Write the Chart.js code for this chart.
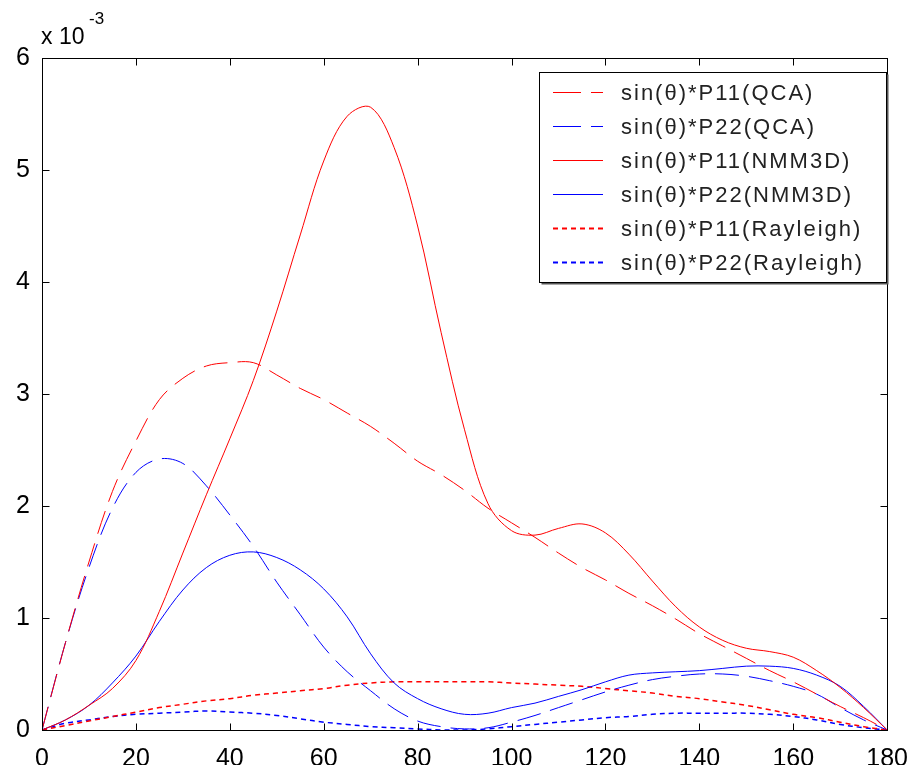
<!DOCTYPE html>
<html>
<head>
<meta charset="utf-8">
<script src="https://cdn.jsdelivr.net/npm/chart.js@4.4.1/dist/chart.umd.min.js"></script>
<style>
  html, body { margin: 0; padding: 0; background: #fff; }
</style>
</head>
<body>
<canvas id="phaseChart" width="922" height="765"></canvas>
<script>
// scattering angle (deg)
const theta = [0, 5, 10, 15, 20, 25, 30, 35, 40, 45, 50, 55, 60, 65, 70, 75, 80, 85, 90,
               95, 100, 105, 110, 115, 120, 125, 130, 135, 140, 145, 150, 155, 160, 165, 170, 175, 180];

// sin(theta)*P, in units of 1e-3
const p11QCA = [0, 0.78, 1.50, 2.13, 2.58, 2.95, 3.14, 3.25, 3.28, 3.28, 3.17, 3.05, 2.95, 2.83, 2.71, 2.56, 2.40, 2.28, 2.14,
                1.98, 1.85, 1.72, 1.58, 1.45, 1.34, 1.22, 1.11, 0.99, 0.86, 0.75, 0.64, 0.53, 0.43, 0.32, 0.21, 0.11, 0];
const p22QCA = [0, 0.78, 1.45, 1.98, 2.30, 2.42, 2.38, 2.18, 1.92, 1.64, 1.32, 1.03, 0.74, 0.52, 0.35, 0.19, 0.08, 0.03, 0.01,
                0.02, 0.07, 0.13, 0.20, 0.27, 0.34, 0.40, 0.45, 0.48, 0.50, 0.50, 0.48, 0.44, 0.39, 0.32, 0.20, 0.09, 0];
const p11NMM = [0, 0.09, 0.22, 0.37, 0.62, 1.06, 1.58, 2.10, 2.60, 3.12, 3.74, 4.42, 5.08, 5.48, 5.56, 5.20, 4.50, 3.55, 2.68,
                2.02, 1.78, 1.74, 1.80, 1.84, 1.76, 1.57, 1.33, 1.10, 0.92, 0.80, 0.73, 0.70, 0.65, 0.53, 0.38, 0.20, 0];
const p22NMM = [0, 0.09, 0.22, 0.42, 0.66, 0.97, 1.25, 1.45, 1.56, 1.59, 1.54, 1.43, 1.26, 1.01, 0.68, 0.42, 0.28, 0.19, 0.14,
                0.15, 0.20, 0.24, 0.30, 0.36, 0.43, 0.49, 0.51, 0.52, 0.53, 0.55, 0.57, 0.57, 0.55, 0.49, 0.39, 0.21, 0];
const p11Ray = [0, 0.04, 0.08, 0.12, 0.16, 0.20, 0.23, 0.26, 0.28, 0.31, 0.33, 0.35, 0.37, 0.40, 0.42, 0.43, 0.43, 0.43, 0.43,
                0.43, 0.42, 0.41, 0.40, 0.39, 0.37, 0.35, 0.33, 0.30, 0.28, 0.25, 0.22, 0.18, 0.14, 0.11, 0.07, 0.03, 0];
const p22Ray = [0, 0.06, 0.09, 0.12, 0.14, 0.15, 0.16, 0.17, 0.16, 0.15, 0.13, 0.10, 0.07, 0.05, 0.03, 0.02, 0.01, 0.00, 0.00,
                0.01, 0.03, 0.05, 0.07, 0.09, 0.11, 0.12, 0.14, 0.15, 0.15, 0.15, 0.15, 0.14, 0.12, 0.09, 0.05, 0.02, 0];

const xTicks = [0, 20, 40, 60, 80, 100, 120, 140, 160, 180];
const yTicks = [0, 1, 2, 3, 4, 5, 6];

const FONT = '"Liberation Sans", Arial, sans-serif';
const RED = '#ff0000';
const BLUE = '#0000ff';
const DASH = [24, 10];
const DOT = [5, 4];

function series(label, values, color, dash, width) {
    return {
        label: label,
        data: theta.map((t, i) => ({ x: t, y: values[i] })),
        borderColor: color,
        borderWidth: width,
        borderDash: dash,
        pointRadius: 0,
        fill: false,
        tension: 0.35
    };
}

// frame with inward ticks on all four sides, exponent label and boxed legend
const framePlugin = {
    id: 'frame',
    afterDraw(chart) {
        const ctx = chart.ctx;
        const a = chart.chartArea;
        const xs = chart.scales.x, ys = chart.scales.y;
        const L = Math.round(a.left) + 0.5, R = Math.round(a.right) + 0.5;
        const T = Math.round(a.top) + 0.5, B = Math.round(a.bottom) + 0.5;
        const tick = 7;

        ctx.save();
        ctx.strokeStyle = '#000';
        ctx.lineWidth = 1;
        ctx.setLineDash([]);
        ctx.strokeRect(L, T, R - L, B - T);
        ctx.beginPath();
        xTicks.forEach(v => {
            const px = Math.round(xs.getPixelForValue(v)) + 0.5;
            ctx.moveTo(px, B); ctx.lineTo(px, B - tick);
            ctx.moveTo(px, T); ctx.lineTo(px, T + tick);
        });
        yTicks.forEach(v => {
            const py = Math.round(ys.getPixelForValue(v)) + 0.5;
            ctx.moveTo(L, py); ctx.lineTo(L + tick, py);
            ctx.moveTo(R, py); ctx.lineTo(R - tick, py);
        });
        ctx.stroke();

        // x 10^-3
        ctx.fillStyle = '#000';
        ctx.textBaseline = 'alphabetic';
        ctx.textAlign = 'left';
        ctx.font = '23px ' + FONT;
        ctx.fillText('x 10', 41, 44);
        ctx.font = '17px ' + FONT;
        ctx.fillText('-3', 89, 24);

        // legend
        const box = { x: 539.5, y: 72.5, w: 347, h: 210 };
        ctx.fillStyle = '#555';
        ctx.fillRect(box.x + 2, box.y + 2, box.w, box.h);
        ctx.fillStyle = '#fff';
        ctx.fillRect(box.x, box.y, box.w, box.h);
        ctx.strokeStyle = '#000';
        ctx.strokeRect(box.x, box.y, box.w, box.h);

        ctx.font = '22px ' + FONT;
        ctx.textBaseline = 'middle';
        if ('letterSpacing' in ctx) ctx.letterSpacing = '2px';
        chart.data.datasets.forEach((ds, i) => {
            const cy = Math.round(92 + i * 34) + 0.5;
            ctx.strokeStyle = ds.borderColor;
            ctx.lineWidth = ds.borderWidth > 1 ? 2 : 1;
            ctx.setLineDash(ds.borderDash === DASH ? [28, 10] : ds.borderDash === DOT ? [5, 4] : []);
            ctx.beginPath();
            ctx.moveTo(553, cy);
            ctx.lineTo(603, cy);
            ctx.stroke();
            ctx.setLineDash([]);
            ctx.fillStyle = '#222';
            ctx.fillText(ds.label, 621, cy + 1);
        });
        ctx.restore();
    }
};

const ctx = document.getElementById('phaseChart').getContext('2d');
const phaseChart = new Chart(ctx, {
    type: 'line',
    data: {
        datasets: [
            series('sin(\u03b8)*P11(QCA)', p11QCA, RED, DASH, 1),
            series('sin(\u03b8)*P22(QCA)', p22QCA, BLUE, DASH, 1),
            series('sin(\u03b8)*P11(NMM3D)', p11NMM, RED, [], 1),
            series('sin(\u03b8)*P22(NMM3D)', p22NMM, BLUE, [], 1),
            series('sin(\u03b8)*P11(Rayleigh)', p11Ray, RED, DOT, 1.5),
            series('sin(\u03b8)*P22(Rayleigh)', p22Ray, BLUE, DOT, 1.5)
        ]
    },
    options: {
        responsive: false,
        animation: false,
        layout: { padding: { top: 58, right: 23, left: 0, bottom: 0 } },
        plugins: {
            legend: { display: false },
            tooltip: { enabled: false }
        },
        scales: {
            x: {
                type: 'linear',
                min: 0,
                max: 180,
                afterBuildTicks: s => { s.ticks = xTicks.map(v => ({ value: v })); },
                afterFit: s => { s.height = 35; },
                grid: { display: false, drawTicks: false },
                border: { display: false },
                ticks: {
                    padding: 14,
                    maxRotation: 0,
                    color: '#000',
                    font: { family: FONT, size: 25 }
                }
            },
            y: {
                type: 'linear',
                min: 0,
                max: 6,
                afterBuildTicks: s => { s.ticks = yTicks.map(v => ({ value: v })); },
                afterFit: s => { s.width = 42; },
                grid: { display: false, drawTicks: false },
                border: { display: false },
                ticks: {
                    padding: 12,
                    color: '#000',
                    font: { family: FONT, size: 25 }
                }
            }
        }
    },
    plugins: [framePlugin]
});
</script>
</body>
</html>
